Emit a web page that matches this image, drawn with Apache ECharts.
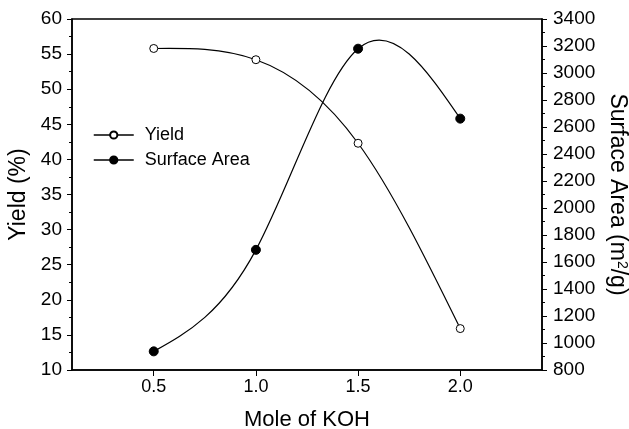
<!DOCTYPE html>
<html>
<head>
<meta charset="utf-8">
<script src="https://cdn.jsdelivr.net/npm/echarts@6/dist/echarts.min.js"></script>
<style>
  html, body { margin: 0; padding: 0; background: #fff; }
  #chart { width: 629px; height: 429px; }
</style>
</head>
<body>
<div id="chart"></div>
<script>
let moles = [0.5, 1.0, 1.5, 2.0];
let yieldPct = [55.8, 54.2, 42.3, 15.9];
let surfaceArea = [938, 1690, 3180, 2662];
let xTicks = [0.5, 1.0, 1.5, 2.0];

let font = "'Liberation Sans', Arial, sans-serif";
let chart = echarts.init(document.getElementById("chart"));

function pairs(xs, ys) {
    let out = [];
    for (let i = 0; i < xs.length; i++) out.push([xs[i], ys[i]]);
    return out;
}

// natural cubic spline through the pixel points, written as bezier segments
function splinePath(pts) {
    let n = pts.length;
    let h = [], d = [];
    for (let i = 0; i < n - 1; i++) {
        h.push(pts[i + 1][0] - pts[i][0]);
        d.push((pts[i + 1][1] - pts[i][1]) / h[i]);
    }
    // second derivatives, natural ends (M0 = Mn-1 = 0)
    let M = new Array(n).fill(0);
    let a = [], b = [], c = [], r = [];
    for (let i = 1; i < n - 1; i++) {
        a.push(h[i - 1]); b.push(2 * (h[i - 1] + h[i])); c.push(h[i]);
        r.push(6 * (d[i] - d[i - 1]));
    }
    let m = b.length;
    for (let i = 1; i < m; i++) {
        let w = a[i] / b[i - 1];
        b[i] -= w * c[i - 1];
        r[i] -= w * r[i - 1];
    }
    for (let i = m - 1; i >= 0; i--) {
        M[i + 1] = (r[i] - (i < m - 1 ? c[i] * M[i + 2] : 0)) / b[i];
    }
    let path = 'M' + pts[0][0] + ',' + pts[0][1];
    for (let i = 0; i < n - 1; i++) {
        let s0 = d[i] - h[i] * (2 * M[i] + M[i + 1]) / 6;
        let s1 = d[i] + h[i] * (M[i] + 2 * M[i + 1]) / 6;
        let k = h[i] / 3;
        path += 'C' + (pts[i][0] + k) + ',' + (pts[i][1] + k * s0) + ' '
            + (pts[i + 1][0] - k) + ',' + (pts[i + 1][1] - k * s1) + ' '
            + pts[i + 1][0] + ',' + pts[i + 1][1];
    }
    return path;
}

function curveSeries(name, ys, axisIndex) {
    return {
        name: name, type: 'custom', yAxisIndex: axisIndex, z: 1,
        data: pairs(moles, ys),
        renderItem: function (params, api) {
            if (params.dataIndex !== 0) return null;
            let pts = moles.map((x, i) => api.coord([x, ys[i]]));
            return {
                type: 'path',
                shape: { pathData: splinePath(pts) },
                style: { stroke: '#000', fill: null, lineWidth: 1.2 }
            };
        }
    };
}

let axisLine = { show: true, lineStyle: { color: '#000', width: 1.5 } };

let option = {
    backgroundColor: '#fff',
    animation: false,
    grid: {
        left: 72, right: 87, top: 19, bottom: 59,
        outerBoundsMode: 'none', containLabel: false,
        show: true, borderColor: '#000', borderWidth: 1.5
    },
    legend: {
        orient: 'vertical',
        left: 88, top: 121,
        itemWidth: 40, itemHeight: 9, itemGap: 7,
        lineStyle: { color: '#000', width: 1.5, opacity: 1 },
        textStyle: { fontFamily: font, fontSize: 18, color: '#000', padding: [0, 0, 0, 6] },
        data: ['Yield', 'Surface Area']
    },
    xAxis: {
        type: 'value', min: 0.1, max: 2.4,
        axisLine: axisLine,
        splitLine: { show: false },
        axisTick: { length: 6, customValues: xTicks, lineStyle: { color: '#000' } },
        axisLabel: { customValues: xTicks, formatter: v => v.toFixed(1), fontFamily: font, fontSize: 18, color: '#000', margin: 8 },
        name: 'Mole of KOH', nameLocation: 'middle', nameGap: 39,
        nameTextStyle: { fontFamily: font, fontSize: 22, color: '#000' }
    },
    yAxis: [{
        type: 'value', min: 10, max: 60, interval: 5, position: 'left',
        axisLine: axisLine,
        splitLine: { show: false },
        axisTick: { show: true, length: 5, lineStyle: { color: '#000' } },
        minorTick: { show: true, splitNumber: 2, length: 3, lineStyle: { color: '#000' } },
        axisLabel: { fontFamily: font, fontSize: 19, color: '#000', margin: 10 },
        name: 'Yield (%)', nameLocation: 'middle', nameGap: 40,
        nameTextStyle: { fontFamily: font, fontSize: 23, color: '#000' }
    }, {
        type: 'value', min: 800, max: 3400, interval: 200, position: 'right',
        axisLine: axisLine,
        splitLine: { show: false },
        axisTick: { show: true, length: 5, lineStyle: { color: '#000' } },
        minorTick: { show: true, splitNumber: 2, length: 3, lineStyle: { color: '#000' } },
        axisLabel: { formatter: v => String(v), fontFamily: font, fontSize: 19, color: '#000', margin: 11 },
        name: '{a|Surface Area (m}{b|2}{a|/g)}', nameLocation: 'middle', nameGap: 58, nameRotate: -90,
        nameTextStyle: {
            fontFamily: font, fontSize: 23, color: '#000',
            rich: {
                a: { fontFamily: font, fontSize: 23, color: '#000' },
                b: { fontFamily: font, fontSize: 14, color: '#000', verticalAlign: 'top', padding: [0, 0, 9, 0] }
            }
        }
    }],
    series: [
        curveSeries('yieldCurve', yieldPct, 0),
        curveSeries('surfaceCurve', surfaceArea, 1),
        {
            name: 'Yield', type: 'line', yAxisIndex: 0, z: 3,
            data: pairs(moles, yieldPct),
            symbol: 'circle', symbolSize: 8,
            lineStyle: { color: '#000', width: 1.2, opacity: 0 },
            itemStyle: { color: '#fff', borderColor: '#000', borderWidth: 1 }
        }, {
            name: 'Surface Area', type: 'line', yAxisIndex: 1, z: 3,
            data: pairs(moles, surfaceArea),
            symbol: 'circle', symbolSize: 9,
            lineStyle: { color: '#000', width: 1.2, opacity: 0 },
            itemStyle: { color: '#000', borderColor: '#000', borderWidth: 1 }
        }
    ]
};
chart.setOption(option);
</script>
</body>
</html>
